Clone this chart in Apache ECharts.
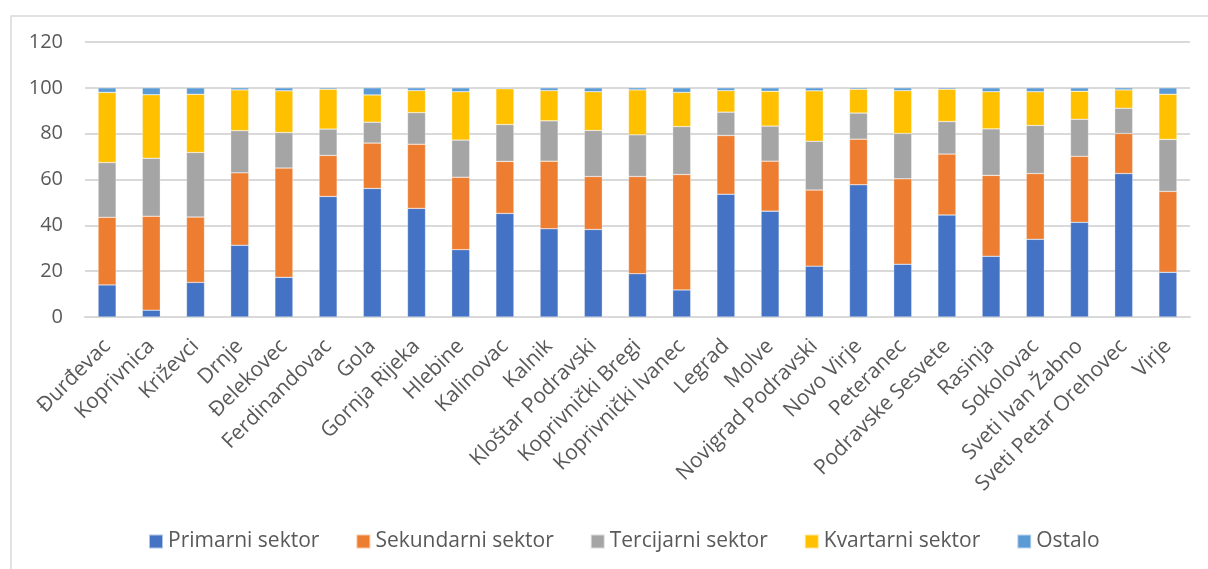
<!DOCTYPE html>
<html lang="hr">

<head>
    <meta charset="UTF-8">
    <title>Sektori</title>
    <script src="https://cdn.jsdelivr.net/npm/echarts@6/dist/echarts.min.js"></script>
    <style>
        * {
            margin: 0;
            padding: 0;
        }

        #main {
            width: 1208px;
            height: 569px;
            background-color: #fff;
        }
    </style>
</head>

<body>
    <div id="main"></div>
    <script>
        // podaci
        const categories = ['Đurđevac', 'Koprivnica', 'Križevci', 'Drnje', 'Đelekovec', 'Ferdinandovac', 'Gola',
            'Gornja Rijeka', 'Hlebine', 'Kalinovac', 'Kalnik', 'Kloštar Podravski', 'Koprivnički Bregi',
            'Koprivnički Ivanec', 'Legrad', 'Molve', 'Novigrad Podravski', 'Novo Virje', 'Peteranec',
            'Podravske Sesvete', 'Rasinja', 'Sokolovac', 'Sveti Ivan Žabno', 'Sveti Petar Orehovec', 'Virje'];
        const primarni = [14.0, 3.0, 15.1, 31.3, 17.3, 52.6, 56.1, 47.4, 29.4, 45.2, 38.5, 38.2, 18.9, 11.8, 53.6, 46.2, 22.2, 57.7, 23.0, 44.5, 26.5, 33.9, 41.3, 62.6, 19.5];
        const sekundarni = [29.5, 41.0, 28.5, 31.6, 47.7, 17.9, 19.8, 28.0, 31.6, 22.7, 29.5, 23.1, 42.4, 50.4, 25.6, 21.8, 33.2, 19.9, 37.3, 26.6, 35.3, 28.7, 28.8, 17.5, 35.3];
        const tercijarni = [23.9, 25.3, 28.2, 18.4, 15.5, 11.5, 9.1, 13.8, 16.2, 16.1, 17.6, 20.1, 18.2, 20.9, 10.2, 15.3, 21.3, 11.4, 19.8, 14.2, 20.3, 21.0, 16.2, 11.0, 22.7];
        const kvartarni = [30.6, 27.7, 25.4, 17.8, 18.2, 17.4, 11.9, 9.6, 21.1, 15.6, 13.2, 16.9, 19.6, 14.9, 9.4, 15.2, 22.0, 10.4, 18.7, 14.1, 16.2, 14.7, 12.2, 8.0, 19.7];
        const ostalo = [2.0, 3.0, 2.8, 0.9, 1.3, 0.6, 3.1, 1.2, 1.7, 0.4, 1.2, 1.7, 0.9, 2.0, 1.2, 1.5, 1.3, 0.6, 1.2, 0.6, 1.7, 1.7, 1.5, 0.9, 2.8];
        const seriesNames = ['Primarni sektor', 'Sekundarni sektor', 'Tercijarni sektor', 'Kvartarni sektor', 'Ostalo'];
        const seriesData = [primarni, sekundarni, tercijarni, kvartarni, ostalo];
        const colors = ['#4472C4', '#ED7D31', '#A5A5A5', '#FFC000', '#5B9BD5'];

        var myChart = echarts.init(document.getElementById('main'));
        const font = 'Open Sans';

        var option = {
            animation: false,
            color: colors,
            graphic: [{
                type: 'rect',
                left: 8.5,
                top: 13.5,
                shape: { width: 1260, height: 620 },
                style: { fill: 'none', stroke: '#d9d9d9', lineWidth: 1.5 },
                silent: true
            }],
            grid: {
                left: 85,
                right: 18,
                top: 42,
                bottom: 252
            },
            legend: {
                top: 526,
                left: 143,
                itemWidth: 14,
                itemHeight: 14,
                itemGap: 36,
                icon: 'rect',
                textStyle: { color: '#595959', fontSize: 21, fontFamily: font },
                data: seriesNames
            },
            xAxis: {
                type: 'category',
                data: categories,
                axisLine: { lineStyle: { color: '#d9d9d9', width: 2 } },
                axisTick: { show: false },
                axisLabel: {
                    rotate: 45,
                    interval: 0,
                    color: '#595959',
                    fontSize: 21,
                    fontFamily: font,
                    margin: 26
                }
            },
            yAxis: {
                type: 'value',
                min: 0,
                max: 120,
                interval: 20,
                axisLine: { show: false },
                axisTick: { show: false },
                splitLine: { lineStyle: { color: '#d9d9d9', width: 2 } },
                axisLabel: { color: '#595959', fontSize: 20, fontFamily: font, margin: 22 }
            },
            series: seriesNames.map((name, i) => ({
                name: name,
                type: 'bar',
                stack: 'total',
                barWidth: 18,
                data: seriesData[i],
                itemStyle: { borderColor: 'rgba(255,255,255,0.6)', borderWidth: 0.5 }
            }))
        };

        myChart.setOption(option);
    </script>
</body>

</html>
